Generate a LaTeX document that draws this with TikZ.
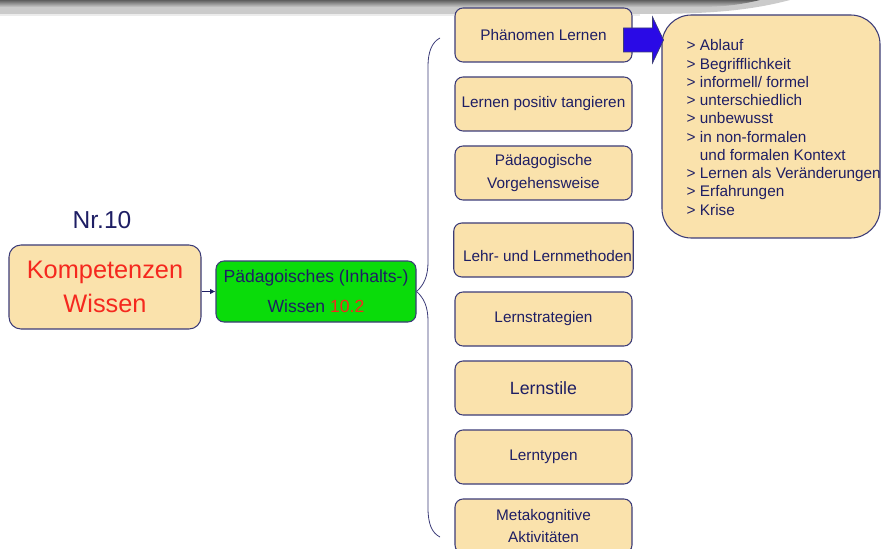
\documentclass[tikz,border=0pt]{standalone}
\usepackage{fontspec}
\setmainfont{Liberation Sans}
\usetikzlibrary{calc,arrows.meta}

\definecolor{boxfill}{HTML}{FAE2AC}
\definecolor{edge}{HTML}{3C3C78}
\definecolor{ink}{HTML}{1E1E64}
\definecolor{alarm}{HTML}{F5281E}
\definecolor{leaf}{HTML}{0ADC0A}
\definecolor{arrowblue}{HTML}{2A0AE6}
\definecolor{bandlight}{HTML}{CBCBCB}
\definecolor{banddark}{HTML}{5E5E5E}

\begin{document}
\begin{tikzpicture}[x=0.75pt,y=-0.75pt,
  topic/.style={draw=edge, line width=0.8pt, fill=boxfill, rounded corners=6pt,
    minimum width=132.75pt, minimum height=40.5pt, inner sep=1pt, align=center,
    text=ink, font=\fontsize{11.5}{17}\selectfont},
  mainbox/.style={draw=edge, line width=0.8pt, fill=boxfill, rounded corners=9pt,
    minimum width=144pt, minimum height=63pt, align=center, text=alarm,
    font=\fontsize{19}{25.5}\selectfont},
  subbox/.style={draw=edge, line width=0.8pt, fill=leaf, rounded corners=6pt,
    minimum width=150pt, minimum height=45.75pt, align=center, text=ink,
    font=\fontsize{13.2}{22.5}\selectfont},
  listbox/.style={draw=edge, line width=0.8pt, fill=boxfill, rounded corners=22pt,
    minimum width=163.5pt, minimum height=167.25pt},
  brace/.style={draw=edge, line width=0.6pt},
]
\useasboundingbox (0,0) rectangle (882,549);

% slide header shadow
\fill[bandlight]
  (0,0) -- (790,0) .. controls (745,12) and (700,14) .. (640,14) -- (0,14) -- cycle;
\shade[top color=banddark, bottom color=bandlight]
  (0,0) -- (760,0) .. controls (740,5) and (720,7) .. (700,7) -- (0,7) -- cycle;
\fill[gray!15] (0,14) rectangle (640,16);

% left part
\node[text=ink, font=\fontsize{18.4}{20}\selectfont] (nr) at (102,220) {Nr.10};
\node[mainbox] (komp) at (105,287) {Kompetenzen\\Wissen};
\node[subbox] (paed) at (316,291.5) {Pädagoisches (Inhalts-)\\Wissen \textcolor{alarm}{10.2}};
\draw[ink, line width=0.6pt, -{Latex[length=4pt,width=4pt]}] (komp.east |- paed.west) -- (paed.west);

% topic column
\node[topic] (phen) at (543.5,35)  {Phänomen Lernen};
\node[topic] (pos)  at (543.5,104) {Lernen positiv tangieren};
\node[topic] (vorg) at (543.5,173) {Pädagogische\\Vorgehensweise};
\node[topic] (meth) at (543.5,250) {\smash{\raisebox{-8.6pt}{\hspace{6pt}Lehr- und Lernmethoden}}};
\node[topic] (strat) at (543.5,319) {Lernstrategien};
\node[topic, font=\fontsize{13.3}{16}\selectfont] (stil) at (543.5,388) {Lernstile};
\node[topic] (typ)  at (543.5,457) {Lerntypen};
\node[topic, font=\fontsize{11.5}{16}\selectfont] (meta) at (543.5,526) {Metakognitive\\Aktivitäten};

% curly bracket joining the column
\coordinate (btop) at (440,38);
\coordinate (bbot) at (440,537);
\draw[brace] (paed.east) .. controls (424,285) and (428,276) .. (428,262)
  -- (428,66) .. controls (428,52) and (432,42) .. (btop);
\draw[brace] (paed.east) .. controls (424,298) and (428,307) .. (428,321)
  -- (428,508) .. controls (428,524) and (432,533) .. (bbot);

% details on the learning phenomenon
\node[listbox] (details) at (771,126.5) {};
\node[anchor=west, align=left, text=ink, inner sep=0pt,
      font=\fontsize{11.5}{13.7}\selectfont] (dtext) at ($(details.west)+(25,1)$)
  {> Ablauf\\
   > Begrifflichkeit\\
   > informell/ formel\\
   > unterschiedlich\\
   > unbewusst\\
   > in non-formalen\\
   \phantom{> }und formalen Kontext\\
   > Lernen als Veränderungen\\
   > Erfahrungen\\
   > Krise};

% block arrow
\filldraw[fill=arrowblue, draw=edge, line width=0.5pt]
  ($(phen.east)+(-9,-7)$) -- ($(phen.east)+(20,-7)$) -- ($(phen.east)+(20,-18)$)
  -- ($(phen.east)+(31,5)$) -- ($(phen.east)+(20,28)$) -- ($(phen.east)+(20,17)$)
  -- ($(phen.east)+(-9,17)$) -- cycle;
\end{tikzpicture}
\end{document}
